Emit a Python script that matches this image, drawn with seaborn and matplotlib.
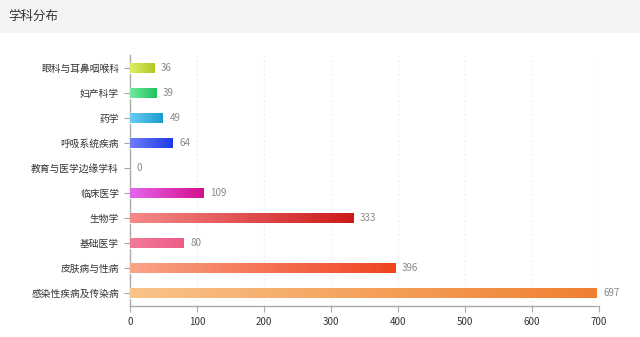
import numpy as np
import pandas as pd
import matplotlib
matplotlib.use("Agg")
import matplotlib.pyplot as plt
import seaborn as sns
from matplotlib.colors import LinearSegmentedColormap
from matplotlib.patches import Rectangle

categories = ["眼科与耳鼻咽喉科", "妇产科学", "药学", "呼吸系统疾病", "教育与医学边缘学科",
              "临床医学", "生物学", "基础医学", "皮肤病与性病", "感染性疾病及传染病"]
values = [36, 39, 49, 64, 0, 109, 333, 80, 396, 697]
start_colors = ["#dcee66", "#74e8a0", "#68cdf2", "#6f7ef9", "#cccccc",
                "#e466ee", "#f58a8a", "#f27a98", "#f9a488", "#f9c48a"]
end_colors = ["#b0c820", "#20c45c", "#1a9cd0", "#1c3ae6", "#999999",
              "#d4108c", "#cc1a1a", "#ec5c88", "#f04420", "#f08030"]
xticks = [0, 100, 200, 300, 400, 500, 600, 700]

sns.set_theme(style="white")
plt.rcParams['font.family'] = ['Noto Sans CJK SC', 'DejaVu Sans']

fig = plt.figure(figsize=(6.4, 3.37), dpi=100)
fig.patch.set_facecolor("white")
# title bar
fig.patches.append(Rectangle((0, 1 - 33 / 337), 1, 33 / 337, transform=fig.transFigure,
                             facecolor="#f4f4f4", edgecolor="none", zorder=0))
fig.text(8 / 640, 1 - 16 / 337, "学科分布", fontsize=9, color="#333333", va="center", ha="left")

ax = fig.add_axes([130 / 640, 1 - 305.5 / 337, (599 - 130) / 640, 250 / 337])
df = pd.DataFrame({"category": categories, "value": values})
sns.barplot(data=df, x="value", y="category", orient="h", width=0.42,
            color="#cccccc", ax=ax, zorder=3)

ax.set_xlim(0, 700)
ax.set_xticks(xticks)
ax.set_xticklabels([str(t) for t in xticks])
ax.set_xlabel("")
ax.set_ylabel("")

for patch, c0, c1 in zip(ax.patches, start_colors, end_colors):
    x0, y0 = patch.get_x(), patch.get_y()
    w, h = patch.get_width(), patch.get_height()
    if w <= 0:
        patch.set_visible(False)
        continue
    cmap = LinearSegmentedColormap.from_list("g", [c0, c1])
    grad = np.linspace(0, 1, 256).reshape(1, -1)
    im = ax.imshow(grad, cmap=cmap, aspect="auto", extent=[x0, x0 + w, y0 + h, y0],
                   zorder=4, interpolation="bilinear")
    im.set_clip_path(patch)
    patch.set_facecolor("none")

ax.set_xlim(0, 700)
ax.set_ylim(9.5, -0.5)

for i, v in enumerate(values):
    ax.text(v + 10, i, str(v), va="center", ha="left", fontsize=7, color="#888888", zorder=5)

for t in xticks[1:]:
    ax.axvline(t, color="#ececec", lw=0.8, ls=(0, (1.5, 2.5)), zorder=1)

for s in ["top", "right"]:
    ax.spines[s].set_visible(False)
for s in ["left", "bottom"]:
    ax.spines[s].set_color("#aaaaaa")
    ax.spines[s].set_linewidth(1)

ax.tick_params(axis="y", length=4, width=0.8, color="#aaaaaa", labelsize=7, labelcolor="#333333", pad=4, left=True)
ax.tick_params(axis="x", length=4, width=0.8, color="#aaaaaa", labelsize=7, labelcolor="#333333", pad=4, bottom=True)

fig.savefig("out.png", dpi=100)
